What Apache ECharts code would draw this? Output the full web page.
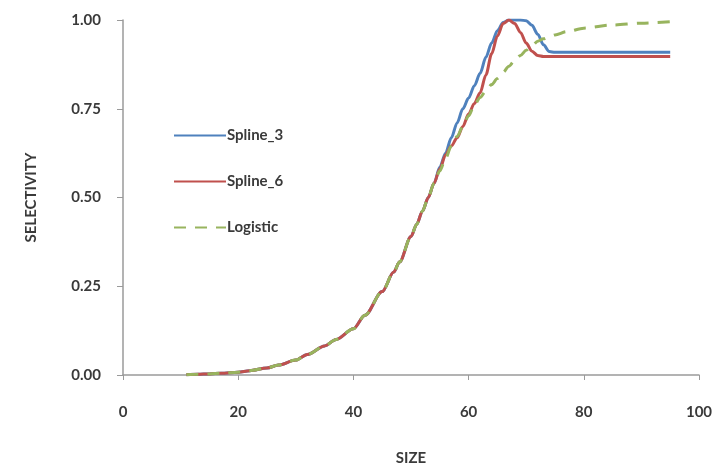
<!DOCTYPE html>
<html>
<head>
<meta charset="utf-8">
<script src="https://cdn.jsdelivr.net/npm/echarts@6/dist/echarts.min.js"></script>
<style>html,body{margin:0;padding:0;background:#fff}#c{width:724px;height:466px}</style>
</head>
<body>
<div id="c"></div>
<script>
// Data
const sizes    = [11, 13, 15, 17, 20, 22, 25, 27, 30, 32, 35, 37, 40, 42, 45, 47, 48, 50, 51, 52, 53, 54, 55, 56, 57, 58, 59, 60, 61, 62, 63, 64, 65, 66, 67, 68, 69, 70, 71, 72, 73, 74, 75, 77, 80, 85, 90, 95];
const spline3  = [0.001, 0.002, 0.003, 0.005, 0.008, 0.012, 0.02, 0.028, 0.042, 0.058, 0.082, 0.10, 0.13, 0.168, 0.235, 0.29, 0.318, 0.39, 0.425, 0.462, 0.50, 0.54, 0.585, 0.625, 0.668, 0.71, 0.75, 0.78, 0.815, 0.85, 0.895, 0.935, 0.97, 0.993, 1.0, 1.0, 1.0, 0.998, 0.985, 0.96, 0.93, 0.911, 0.909, 0.909, 0.909, 0.909, 0.909, 0.909];
const spline6  = [0.001, 0.002, 0.003, 0.005, 0.008, 0.012, 0.02, 0.028, 0.042, 0.058, 0.082, 0.10, 0.13, 0.168, 0.235, 0.29, 0.318, 0.39, 0.425, 0.462, 0.50, 0.54, 0.58, 0.62, 0.645, 0.668, 0.70, 0.735, 0.765, 0.795, 0.845, 0.905, 0.955, 0.99, 1.0, 0.99, 0.965, 0.935, 0.912, 0.90, 0.897, 0.897, 0.897, 0.897, 0.897, 0.897, 0.897, 0.897];
const logistic = [0.001, 0.002, 0.003, 0.005, 0.008, 0.012, 0.02, 0.028, 0.042, 0.058, 0.082, 0.10, 0.13, 0.168, 0.235, 0.29, 0.318, 0.39, 0.425, 0.462, 0.50, 0.54, 0.575, 0.61, 0.645, 0.672, 0.70, 0.73, 0.76, 0.782, 0.80, 0.818, 0.835, 0.853, 0.87, 0.886, 0.90, 0.915, 0.928, 0.94, 0.947, 0.953, 0.958, 0.967, 0.977, 0.986, 0.991, 0.995];
const xTicks = [0, 20, 40, 60, 80, 100];
const yTicks = [0, 0.25, 0.5, 0.75, 1];

const pairs = arr => sizes.map((s, i) => [s, arr[i]]);
const font = 'Lato, "Open Sans", sans-serif';
const axisCol = '#9a9a9a';
const txt = '#3a3a3a';

const chart = echarts.init(document.getElementById('c'));
chart.setOption({
  animation: false,
  grid: {left: 123, right: 25, top: 20, bottom: 91, outerBoundsMode: 'none', containLabel: false},
  legend: {
    orient: 'vertical', left: 168, top: 123,
    itemWidth: 52, itemHeight: 14, itemGap: 31,
    itemStyle: {opacity: 0},
    textStyle: {fontFamily: font, fontWeight: 'bold', fontSize: 15, color: txt, padding: [0,0,0,-4]},
    data: ['Spline_3', 'Spline_6', 'Logistic']
  },
  xAxis: {
    type: 'value', min: xTicks[0], max: xTicks[xTicks.length-1], interval: 20,
    name: 'SIZE', nameLocation: 'middle', nameGap: 76,
    nameTextStyle: {fontFamily: font, fontWeight: 'bold', fontSize: 15, color: txt},
    axisLine: {show: true, lineStyle: {color: axisCol, width: 1.5}},
    axisTick: {show: true, inside: false, length: 5, lineStyle: {color: axisCol}},
    axisLabel: {fontFamily: font, fontWeight: 'bold', fontSize: 15, color: txt, margin: 30},
    splitLine: {show: false}
  },
  yAxis: {
    type: 'value', min: yTicks[0], max: yTicks[yTicks.length-1], interval: 0.25,
    name: 'SELECTIVITY', nameLocation: 'middle', nameGap: 84,
    nameTextStyle: {fontFamily: font, fontWeight: 'bold', fontSize: 15, color: txt},
    axisLine: {show: true, lineStyle: {color: axisCol, width: 1.5}},
    axisTick: {show: true, length: 6, lineStyle: {color: axisCol}},
    axisLabel: {fontFamily: font, fontWeight: 'bold', fontSize: 15, color: txt, margin: 22,
      formatter: v => v.toFixed(2)},
    splitLine: {show: false}
  },
  series: [
    {name: 'Spline_3', type: 'line', data: pairs(spline3), symbol: 'none', smooth: 0.3, smoothMonotone: 'x',
     lineStyle: {color: '#4F81BD', width: 3}, itemStyle: {color: '#4F81BD'}},
    {name: 'Spline_6', type: 'line', data: pairs(spline6), symbol: 'none', smooth: 0.3, smoothMonotone: 'x',
     lineStyle: {color: '#C0504D', width: 3}, itemStyle: {color: '#C0504D'}},
    {name: 'Logistic', type: 'line', data: pairs(logistic), symbol: 'none', smooth: 0.3, smoothMonotone: 'x',
     lineStyle: {color: '#98B45E', width: 3, type: [12, 9]}, itemStyle: {color: '#98B45E'}}
  ]
});
</script>
</body>
</html>
